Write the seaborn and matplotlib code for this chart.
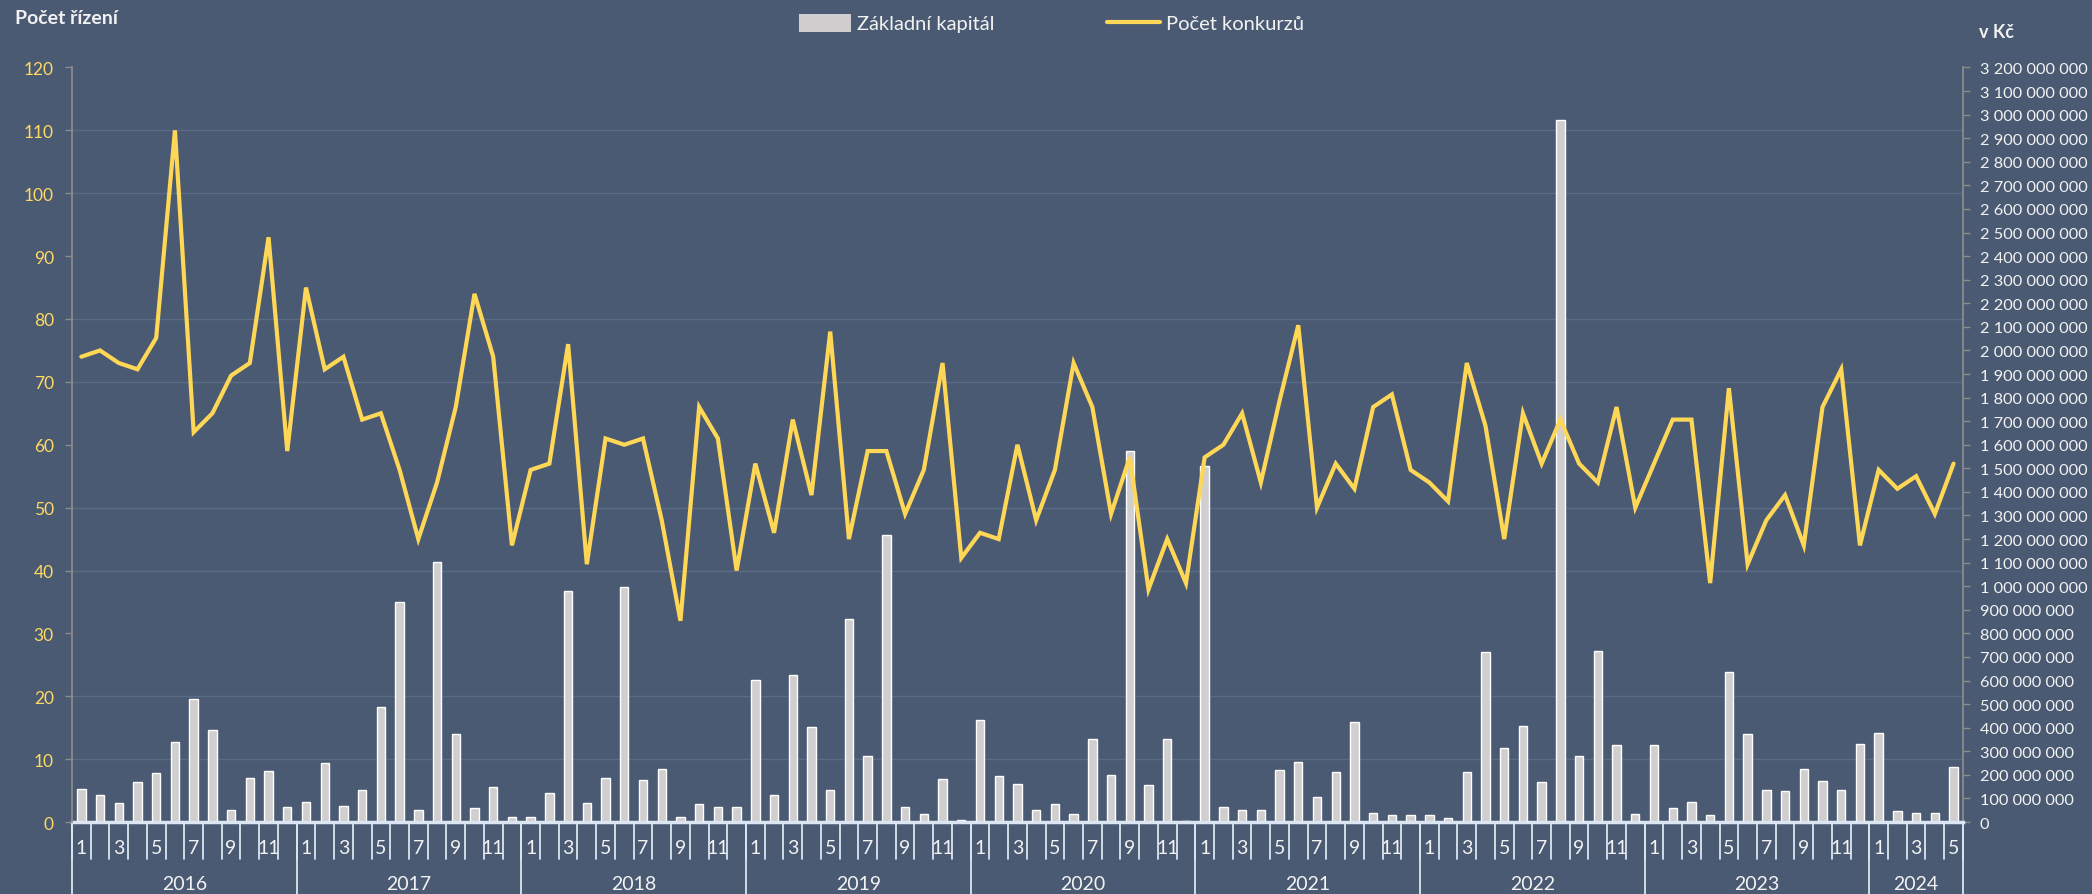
import numpy as np
import pandas as pd
import seaborn as sns
import matplotlib.pyplot as plt
import matplotlib.transforms as mtransforms
from matplotlib.patches import Patch
from matplotlib.lines import Line2D
from matplotlib.ticker import FixedLocator, FuncFormatter

# data (Jan 2016 - May 2024)
years = [2016, 2017, 2018, 2019, 2020, 2021, 2022, 2023, 2024]
months_per_year = [12, 12, 12, 12, 12, 12, 12, 12, 5]

pocet_konkurzu = [
    74, 75, 73, 72, 77, 110, 62, 65, 71, 73, 93, 59,
    85, 72, 74, 64, 65, 56, 45, 54, 66, 84, 74, 44,
    56, 57, 76, 41, 61, 60, 61, 48, 32, 66, 61, 40,
    57, 46, 64, 52, 78, 45, 59, 59, 49, 56, 73, 42,
    46, 45, 60, 48, 56, 73, 66, 49, 58, 37, 45, 38,
    58, 60, 65, 54, 67, 79, 50, 57, 53, 66, 68, 56,
    54, 51, 73, 63, 45, 65, 57, 64, 57, 54, 66, 50,
    57, 64, 64, 38, 69, 41, 48, 52, 44, 66, 72, 44,
    56, 53, 55, 49, 57,
]

# základní kapitál in millions of CZK
zakladni_kapital_mil = [
    140, 113, 79, 168, 207, 340, 523, 391, 53, 188, 217, 63,
    83, 251, 69, 134, 486, 932, 49, 1104, 375, 61, 148, 22,
    22, 124, 978, 79, 186, 997, 178, 227, 20, 77, 63, 63,
    604, 113, 622, 405, 136, 863, 278, 1217, 65, 36, 184, 10,
    433, 194, 160, 49, 75, 36, 352, 198, 1574, 158, 352, 6,
    1510, 65, 51, 51, 221, 255, 105, 213, 426, 38, 28, 28,
    28, 18, 213, 723, 312, 407, 170, 2979, 282, 725, 328, 32,
    328, 61, 83, 28, 636, 375, 138, 130, 227, 172, 136, 330,
    379, 45, 38, 38, 235,
]

rows = [(y, m) for y, n in zip(years, months_per_year) for m in range(1, n + 1)]
df = pd.DataFrame(rows, columns=["rok", "mesic"])
df["idx"] = np.arange(len(df))
df["konkurzy"] = pocet_konkurzu
df["kapital"] = np.array(zakladni_kapital_mil) * 1e6

bg = "#4A5A72"
grid_col = "#5A6B86"
spine_col = "#8C8C8C"
sep_col = "#DCE6F2"
bar_col = "#D0CECE"
line_col = "#FFD757"
yellow_txt = "#FFD966"
white_txt = "#F2F2F2"

sns.set_theme(style="white")
plt.rcParams["font.family"] = ["Lato", "DejaVu Sans"]

fig = plt.figure(figsize=(20.92, 8.95), dpi=100, facecolor=bg)
ax = fig.add_axes([0.0344, 0.0804, 0.9039, 0.8431], facecolor=bg)

sns.barplot(data=df, x="idx", y="kapital", ax=ax, color=bar_col,
            width=0.45, saturation=1, errorbar=None, zorder=2)

ax2 = ax.twinx()
sns.lineplot(data=df, x="idx", y="konkurzy", ax=ax2, color=line_col,
             lw=3, solid_joinstyle="miter", zorder=5)

# right axis: capital
kc_max = 3.2e9
ax.set_ylim(0, kc_max)
ax.yaxis.tick_right()
ax.set_yticks(np.arange(0, kc_max + 1, 1e8))
ax.yaxis.set_major_formatter(FuncFormatter(lambda v, p: f"{int(round(v)):,}".replace(",", " ")))
ax.tick_params(axis="y", which="major", length=5, width=1, color=spine_col,
               labelcolor=white_txt, labelsize=11.8, pad=7, right=True, left=False)
# gridlines follow the left scale, drawn under the bars
ax.yaxis.set_minor_locator(FixedLocator(np.arange(0, 121, 10) * kc_max / 120))
ax.tick_params(axis="y", which="minor", length=0)
ax.grid(False)
ax.grid(axis="y", which="minor", color=grid_col, lw=1)
ax.set_axisbelow(True)

# left axis: number of proceedings
ax2.set_ylim(0, 120)
ax2.yaxis.tick_left()
ax2.set_yticks(np.arange(0, 121, 10))
ax2.tick_params(axis="y", length=5, width=1, color=spine_col,
                labelcolor=yellow_txt, labelsize=12.5, pad=8, left=True, right=False)
ax2.grid(False)

ax.set_xlim(-0.5, len(df) - 0.5)
odd = df[df["mesic"] % 2 == 1]
ax.set_xticks(odd["idx"].to_numpy(), [str(m) for m in odd["mesic"]])
ax.tick_params(axis="x", length=0, labelsize=14, labelcolor=white_txt, pad=12)

for a in (ax, ax2):
    a.set_xlabel("")
    a.set_ylabel("")
    for s in a.spines.values():
        s.set_visible(False)
ax.spines["right"].set_visible(True)
ax.spines["right"].set_color(spine_col)
ax2.spines["left"].set_visible(True)
ax2.spines["left"].set_color(spine_col)
ax.spines["bottom"].set_visible(True)
ax.spines["bottom"].set_color(sep_col)
ax.spines["bottom"].set_linewidth(2.5)

# two-level category axis: month separators and year groups
trans = mtransforms.blended_transform_factory(ax.transData, ax.transAxes)
for b in np.arange(-0.5, len(df), 1.0):
    ax.plot([b, b], [0, -0.049], transform=trans, clip_on=False, color=sep_col, lw=1.3)
bounds = np.concatenate([[0], np.cumsum(months_per_year)]) - 0.5
for b in bounds:
    ax.plot([b, b], [0, -0.1], transform=trans, clip_on=False, color=sep_col, lw=1.3)
for y, lo, hi in zip(years, bounds[:-1], bounds[1:]):
    ax.text((lo + hi) / 2, -0.082, str(y), transform=trans, ha="center", va="center",
            fontsize=14, color=white_txt)

fig.text(15 / 2092, 1 - 18 / 895, "Počet řízení", fontsize=14, fontweight="bold",
         color=white_txt, ha="left", va="center")
fig.text(1979 / 2092, 1 - 33 / 895, "v Kč", fontsize=13, fontweight="bold",
         color=white_txt, ha="left", va="center")

handles = [Patch(facecolor=bar_col, edgecolor="none"),
           Line2D([0], [0], color=line_col, lw=3)]
fig.legend(handles, ["Základní kapitál", "Počet konkurzů"], loc="center",
           bbox_to_anchor=(0.5025, 1 - 24 / 895), ncol=2, frameon=False,
           fontsize=14.5, labelcolor=white_txt, handlelength=2.6, handleheight=1.0,
           handletextpad=0.3, columnspacing=5.6)

fig.savefig("out.png", dpi=100, facecolor=bg)
